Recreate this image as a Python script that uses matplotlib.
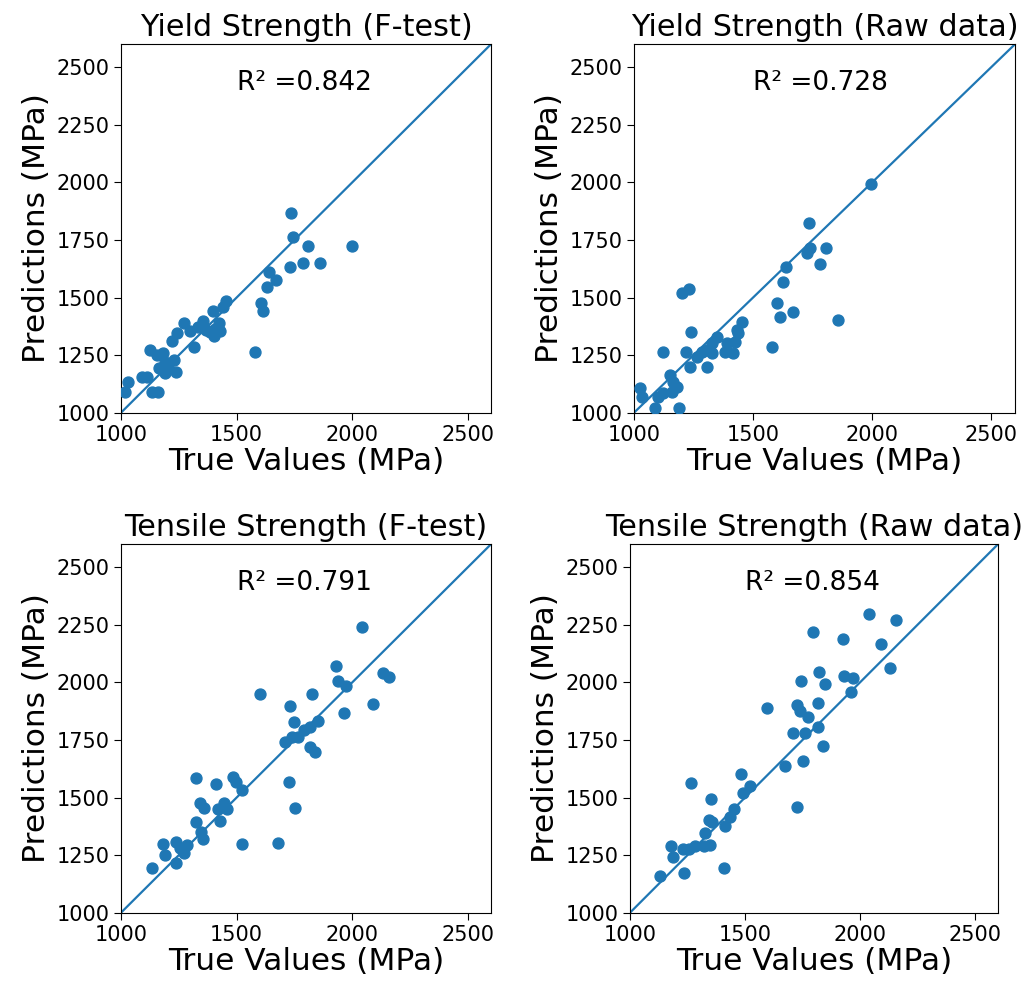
import matplotlib
matplotlib.use("Agg")
import matplotlib.pyplot as plt
import numpy as np

titles = ["Yield Strength (F-test)", "Yield Strength (Raw data)",
          "Tensile Strength (F-test)", "Tensile Strength (Raw data)"]
r2_values = ["0.842", "0.728", "0.791", "0.854"]

ys_ftest_true = [1735, 1742, 1810, 2000, 1731, 1786, 1860, 1642, 1670, 1630, 1606, 1616, 1581,
                 1453, 1443, 1396, 1422, 1429, 1400, 1386, 1353, 1335, 1368, 1408, 1299, 1273,
                 1314, 1242, 1222, 1127, 1155, 1181, 1230, 1191, 1163, 1191, 1239, 1203, 1091,
                 1112, 1134, 1158, 1029, 1019]
ys_ftest_pred = [1868, 1761, 1725, 1725, 1634, 1651, 1651, 1609, 1576, 1544, 1475, 1443, 1262,
                 1483, 1460, 1443, 1388, 1356, 1333, 1352, 1398, 1373, 1359, 1362, 1356, 1388,
                 1287, 1344, 1313, 1272, 1250, 1258, 1229, 1221, 1192, 1171, 1178, 1200, 1153,
                 1153, 1091, 1091, 1135, 1088]

ys_raw_true = [1997, 1734, 1738, 1727, 1808, 1783, 1638, 1627, 1601, 1615, 1666, 1857, 1578,
               1200, 1231, 1238, 1123, 1218, 1452, 1431, 1438, 1424, 1389, 1417, 1382, 1347,
               1326, 1305, 1326, 1284, 1263, 1235, 1308, 1151, 1165, 1179, 1158, 1123, 1102,
               1025, 1032, 1088, 1189]
ys_raw_pred = [1993, 1825, 1713, 1695, 1713, 1645, 1631, 1569, 1478, 1414, 1438, 1402, 1287,
               1521, 1537, 1349, 1262, 1265, 1395, 1359, 1345, 1308, 1301, 1258, 1265, 1330,
               1301, 1272, 1258, 1265, 1243, 1200, 1200, 1164, 1135, 1113, 1091, 1084, 1069,
               1106, 1067, 1022, 1019]

ts_ftest_true = [2042, 1929, 1937, 1973, 2133, 2159, 2089, 1963, 1827, 1729, 1746, 1850, 1818,
                 1793, 1764, 1739, 1710, 1818, 1841, 1602, 1728, 1754, 1679, 1523, 1524, 1484,
                 1499, 1411, 1326, 1444, 1458, 1418, 1429, 1343, 1357, 1326, 1346, 1354, 1239,
                 1285, 1256, 1271, 1180, 1192, 1239, 1134]
ts_ftest_pred = [2242, 2071, 2007, 1984, 2042, 2022, 1904, 1868, 1948, 1899, 1828, 1834, 1805,
                 1793, 1761, 1764, 1740, 1721, 1699, 1949, 1567, 1453, 1301, 1298, 1533, 1588,
                 1569, 1557, 1583, 1475, 1449, 1449, 1398, 1475, 1453, 1395, 1352, 1320, 1308,
                 1294, 1279, 1258, 1298, 1250, 1217, 1192]

ts_raw_true = [2039, 2155, 1794, 1928, 2090, 2130, 1823, 1743, 1849, 1932, 1971, 1959, 1597,
               1728, 1739, 1775, 1819, 1819, 1707, 1761, 1841, 1751, 1674, 1728, 1481, 1522,
               1493, 1265, 1351, 1454, 1435, 1414, 1342, 1355, 1326, 1348, 1323, 1284, 1257,
               1232, 1178, 1188, 1236, 1130, 1410]
ts_raw_pred = [2297, 2271, 2217, 2190, 2168, 2061, 2043, 2006, 1993, 2027, 2017, 1958, 1890,
               1903, 1877, 1851, 1909, 1808, 1781, 1781, 1724, 1660, 1638, 1460, 1602, 1551,
               1521, 1564, 1495, 1449, 1414, 1378, 1402, 1395, 1344, 1294, 1291, 1291, 1275,
               1275, 1291, 1243, 1171, 1161, 1195]

x_ticks = [1000, 1500, 2000, 2500]
y_ticks = [1000, 1250, 1500, 1750, 2000, 2250, 2500]
lims = [1000, 2600]

W, H = 1027, 984
fig = plt.figure(figsize=(W / 100, H / 100), dpi=100)

# axes boxes in pixels: left, top(pixel from top), right, bottom
boxes = [(121, 44.2, 491, 412.7),
         (634, 44.2, 1015, 412.7),
         (121, 544.2, 491, 912.7),
         (630, 544.2, 998, 912.7)]

data = [(ys_ftest_true, ys_ftest_pred), (ys_raw_true, ys_raw_pred),
        (ts_ftest_true, ts_ftest_pred), (ts_raw_true, ts_raw_pred)]

for (l, t, r, b), title, r2, (xt, yp) in zip(boxes, titles, r2_values, data):
    ax = fig.add_axes([l / W, (H - b) / H, (r - l) / W, (b - t) / H])
    ax.scatter(xt, yp, s=62, color='#1f77b4', zorder=3)
    ax.plot(lims, lims, color='#1f77b4', lw=1.6)
    ax.set_xlim(lims)
    ax.set_ylim(lims)
    ax.set_xticks(x_ticks)
    ax.set_yticks(y_ticks)
    ax.tick_params(labelsize=15, length=5)
    ax.set_xlabel("True Values (MPa)", fontsize=22.5, labelpad=2)
    ax.set_ylabel("Predictions (MPa)", fontsize=22.5, labelpad=4)
    ax.set_title(title, fontsize=21.8, pad=6)
    ax.text(1500, 2400, "R\u00b2 =" + r2, fontsize=19)

fig.savefig("out.png", dpi=100)
